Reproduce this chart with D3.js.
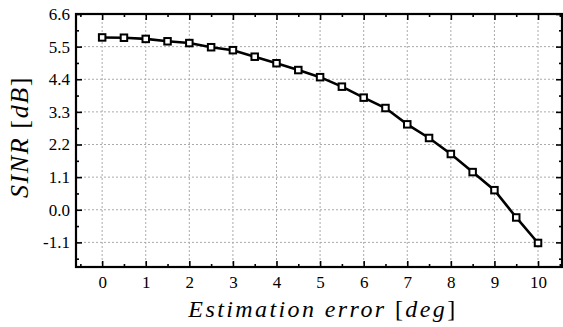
<!DOCTYPE html>
<html>
<head>
<meta charset="utf-8">
<script src="https://cdn.jsdelivr.net/npm/d3@7"></script>
<style>
  body { margin: 0; background: #fff; }
  svg { display: block; }
  text { font-family: "Liberation Serif", "DejaVu Serif", serif; fill: #000; }
</style>
</head>
<body>
<div id="chart"></div>
<script>
// values
var errors = [0, 0.5, 1, 1.5, 2, 2.5, 3, 3.5, 4, 4.5, 5, 5.5, 6, 6.5, 7, 7.5, 8, 8.5, 9, 9.5, 10];
var sinr = [5.81, 5.80, 5.76, 5.68, 5.62, 5.48, 5.38, 5.16, 4.94, 4.71, 4.47, 4.15, 3.78, 3.43, 2.88, 2.42, 1.88, 1.27, 0.66, -0.26, -1.12];
var xTicks = [0, 1, 2, 3, 4, 5, 6, 7, 8, 9, 10];
var yTicks = [-1.1, 0.0, 1.1, 2.2, 3.3, 4.4, 5.5, 6.6];
// minor ticks halfway between majors
var xMinor = [-0.5, 0.5, 1.5, 2.5, 3.5, 4.5, 5.5, 6.5, 7.5, 8.5, 9.5, 10.5];
var yMinor = [-1.65, -0.55, 0.55, 1.65, 2.75, 3.85, 4.95, 6.05];

var width = 563, height = 327;
// plot frame (note: "top" is reserved on window, so use px*)
var pxLeft = 76, pxRight = 562, pxTop = 14, pxBottom = 267;

var svg = d3.select('#chart').append('svg')
    .attr('width', width)
    .attr('height', height);

var x = d3.scaleLinear().domain([-0.6, 10.55]).range([pxLeft, pxRight]);
var y = d3.scaleLinear().domain([-1.93, 6.6]).range([pxBottom, pxTop]);

// grid
var grid = svg.append('g').attr('class', 'grid');
grid.selectAll('line.gx')
    .data(xTicks)
    .enter().append('line')
    .attr('x1', function (d) { return x(d); })
    .attr('x2', function (d) { return x(d); })
    .attr('y1', pxTop).attr('y2', pxBottom)
    .style('stroke', '#aaa').style('stroke-width', 1).style('stroke-dasharray', '2,2');
grid.selectAll('line.gy')
    .data(yTicks)
    .enter().append('line')
    .attr('y1', function (d) { return y(d); })
    .attr('y2', function (d) { return y(d); })
    .attr('x1', pxLeft).attr('x2', pxRight)
    .style('stroke', '#aaa').style('stroke-width', 1).style('stroke-dasharray', '2,2');

// axes: ticks pointing inward on all four sides
function tickMarks(axisG) {
    axisG.select('.domain').remove();
    axisG.selectAll('.tick line').style('stroke', '#000').style('stroke-width', 1.6);
}
var yFmt = function (d) { return d3.format('.1f')(d).replace('\u2212', '-'); };

var bx = svg.append('g').attr('transform', 'translate(0,' + pxBottom + ')')
    .call(d3.axisBottom(x).tickValues(xTicks).tickSizeInner(-6).tickSizeOuter(0).tickPadding(9).tickFormat(d3.format('d')));
tickMarks(bx);
bx.selectAll('.tick text').style('font-size', '17px');
svg.append('g').attr('transform', 'translate(0,' + pxBottom + ')')
    .call(d3.axisBottom(x).tickValues(xMinor).tickSizeInner(-3).tickSizeOuter(0).tickFormat(''))
    .call(tickMarks);

svg.append('g').attr('transform', 'translate(0,' + pxTop + ')')
    .call(d3.axisTop(x).tickValues(xTicks).tickSizeInner(-6).tickSizeOuter(0).tickFormat(''))
    .call(tickMarks);
svg.append('g').attr('transform', 'translate(0,' + pxTop + ')')
    .call(d3.axisTop(x).tickValues(xMinor).tickSizeInner(-3).tickSizeOuter(0).tickFormat(''))
    .call(tickMarks);

var ly = svg.append('g').attr('transform', 'translate(' + pxLeft + ',0)')
    .call(d3.axisLeft(y).tickValues(yTicks).tickSizeInner(-6).tickSizeOuter(0).tickPadding(6).tickFormat(yFmt));
tickMarks(ly);
ly.selectAll('.tick text').style('font-size', '17px');
svg.append('g').attr('transform', 'translate(' + pxLeft + ',0)')
    .call(d3.axisLeft(y).tickValues(yMinor).tickSizeInner(-3).tickSizeOuter(0).tickFormat(''))
    .call(tickMarks);

svg.append('g').attr('transform', 'translate(' + pxRight + ',0)')
    .call(d3.axisRight(y).tickValues(yTicks).tickSizeInner(-6).tickSizeOuter(0).tickFormat(''))
    .call(tickMarks);
svg.append('g').attr('transform', 'translate(' + pxRight + ',0)')
    .call(d3.axisRight(y).tickValues(yMinor).tickSizeInner(-3).tickSizeOuter(0).tickFormat(''))
    .call(tickMarks);

// frame
svg.append('rect')
    .attr('x', pxLeft).attr('y', pxTop)
    .attr('width', pxRight - pxLeft).attr('height', pxBottom - pxTop)
    .style('fill', 'none').style('stroke', '#000').style('stroke-width', 2.2);

// line + square markers
var line = d3.line()
    .x(function (d, i) { return x(errors[i]); })
    .y(function (d) { return y(d); });

svg.append('path')
    .datum(sinr)
    .attr('d', line)
    .style('fill', 'none').style('stroke', '#000').style('stroke-width', 2.6);

svg.selectAll('rect.mk')
    .data(sinr)
    .enter().append('rect')
    .attr('class', 'mk')
    .attr('x', function (d, i) { return x(errors[i]) - 3.25; })
    .attr('y', function (d) { return y(d) - 3.25; })
    .attr('width', 6.5).attr('height', 6.5)
    .style('fill', '#fff').style('stroke', '#000').style('stroke-width', 2);

// axis titles
var xt = svg.append('text')
    .attr('x', 323)
    .attr('y', 317)
    .attr('text-anchor', 'middle')
    .style('font-size', '24px')
    .style('letter-spacing', '2.4px');
xt.append('tspan').style('font-style', 'italic').text('Estimation error ');
xt.append('tspan').text('[');
xt.append('tspan').style('font-style', 'italic').text('deg');
xt.append('tspan').text(']');

var yt = svg.append('text')
    .attr('transform', 'translate(28,137) rotate(-90)')
    .attr('text-anchor', 'middle')
    .style('font-size', '26px')
    .style('letter-spacing', '1.6px');
yt.append('tspan').style('font-style', 'italic').text('SINR ');
yt.append('tspan').text('[');
yt.append('tspan').style('font-style', 'italic').text('dB');
yt.append('tspan').text(']');
</script>
</body>
</html>
